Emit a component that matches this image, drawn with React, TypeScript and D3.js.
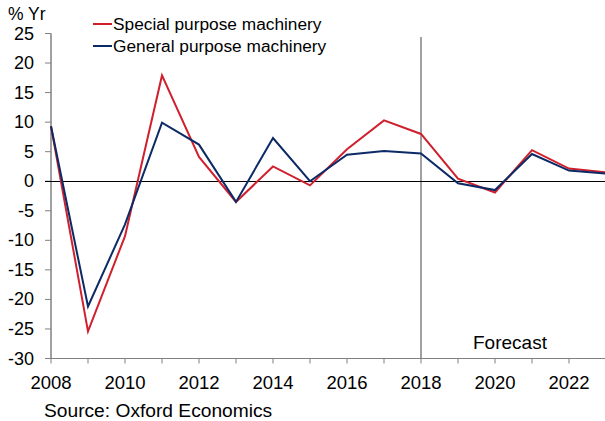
import React from "react";
import * as d3 from "d3";

const years = [2008, 2009, 2010, 2011, 2012, 2013, 2014, 2015, 2016, 2017, 2018, 2019, 2020, 2021, 2022, 2023];
const specialPurpose = [9.3, -25.4, -9.3, 17.9, 4.1, -3.5, 2.5, -0.7, 5.4, 10.3, 8.0, 0.45, -1.9, 5.25, 2.15, 1.5];
const generalPurpose = [9.3, -21.2, -7.3, 9.9, 6.2, -3.5, 7.3, 0.0, 4.5, 5.1, 4.7, -0.35, -1.5, 4.6, 1.8, 1.3];
const yTicks = [25, 20, 15, 10, 5, 0, -5, -10, -15, -20, -25, -30];
const xTickLabels = [2008, 2010, 2012, 2014, 2016, 2018, 2020, 2022];
const seriesNames = ["Special purpose machinery", "General purpose machinery"];
const forecastYear = 2018;

const W = 605;
const H = 421;
const RED = "#d0202e";
const BLUE = "#0b2a66";
const GREY = "#808080";
const FONT = "Liberation Sans, Arial, sans-serif";

export default function App() {
  const x = d3.scaleLinear().domain([2008, 2023]).range([51, 606]);
  const y = d3.scaleLinear().domain([-30, 25]).range([358.5, 33.5]);
  const line = d3
    .line<number>()
    .x((_, i) => x(years[i]))
    .y((d) => y(d));

  return (
    <svg width={W} height={H} style={{ position: "absolute", left: 0, top: 0 }}>
      <rect width={W} height={H} fill="#fff" />
      {/* forecast line */}
      <line x1={x(forecastYear)} x2={x(forecastYear)} y1={37} y2={y(-30)} stroke={GREY} strokeWidth={1.5} />
      {/* y axis */}
      <line x1={x(2008)} x2={x(2008)} y1={y(25)} y2={y(-30)} stroke={GREY} strokeWidth={1.5} />
      {yTicks.map((t) => (
        <g key={t}>
          <line x1={x(2008) - 6} x2={x(2008)} y1={y(t)} y2={y(t)} stroke={GREY} strokeWidth={1} />
          <text x={34} y={y(t) + 6} textAnchor="end" fontFamily={FONT} fontSize={18} fill="#000">
            {t}
          </text>
        </g>
      ))}
      {/* x axis */}
      <line x1={x(2008)} x2={W} y1={y(-30)} y2={y(-30)} stroke={GREY} strokeWidth={1} />
      {years.map((yr) => (
        <line key={yr} x1={x(yr)} x2={x(yr)} y1={y(-30)} y2={y(-30) + 5} stroke={GREY} strokeWidth={1} />
      ))}
      {xTickLabels.map((yr) => (
        <text key={yr} x={x(yr)} y={388.5} textAnchor="middle" fontFamily={FONT} fontSize={18.5} fill="#000">
          {yr}
        </text>
      ))}
      {/* zero line */}
      <line x1={x(2008) - 6} x2={W} y1={y(0)} y2={y(0)} stroke="#000" strokeWidth={1} shapeRendering="crispEdges" />
      {/* series */}
      <path d={line(specialPurpose) ?? ""} fill="none" stroke={RED} strokeWidth={2} />
      <path d={line(generalPurpose) ?? ""} fill="none" stroke={BLUE} strokeWidth={2} />
      {/* legend */}
      <line x1={93} x2={112} y1={24} y2={24} stroke={RED} strokeWidth={2} />
      <text x={113} y={30} fontFamily={FONT} fontSize={17.3} fill="#000">{seriesNames[0]}</text>
      <line x1={93} x2={112} y1={46} y2={46} stroke={BLUE} strokeWidth={2} />
      <text x={113} y={52} fontFamily={FONT} fontSize={17.3} fill="#000">{seriesNames[1]}</text>
      {/* labels */}
      <text x={8} y={19.5} fontFamily={FONT} fontSize={17.5} fill="#000">% Yr</text>
      <text x={473} y={349} fontFamily={FONT} fontSize={19} fill="#000">Forecast</text>
      <text x={44} y={417} fontFamily={FONT} fontSize={19.2} fill="#000">Source: Oxford Economics</text>
    </svg>
  );
}
